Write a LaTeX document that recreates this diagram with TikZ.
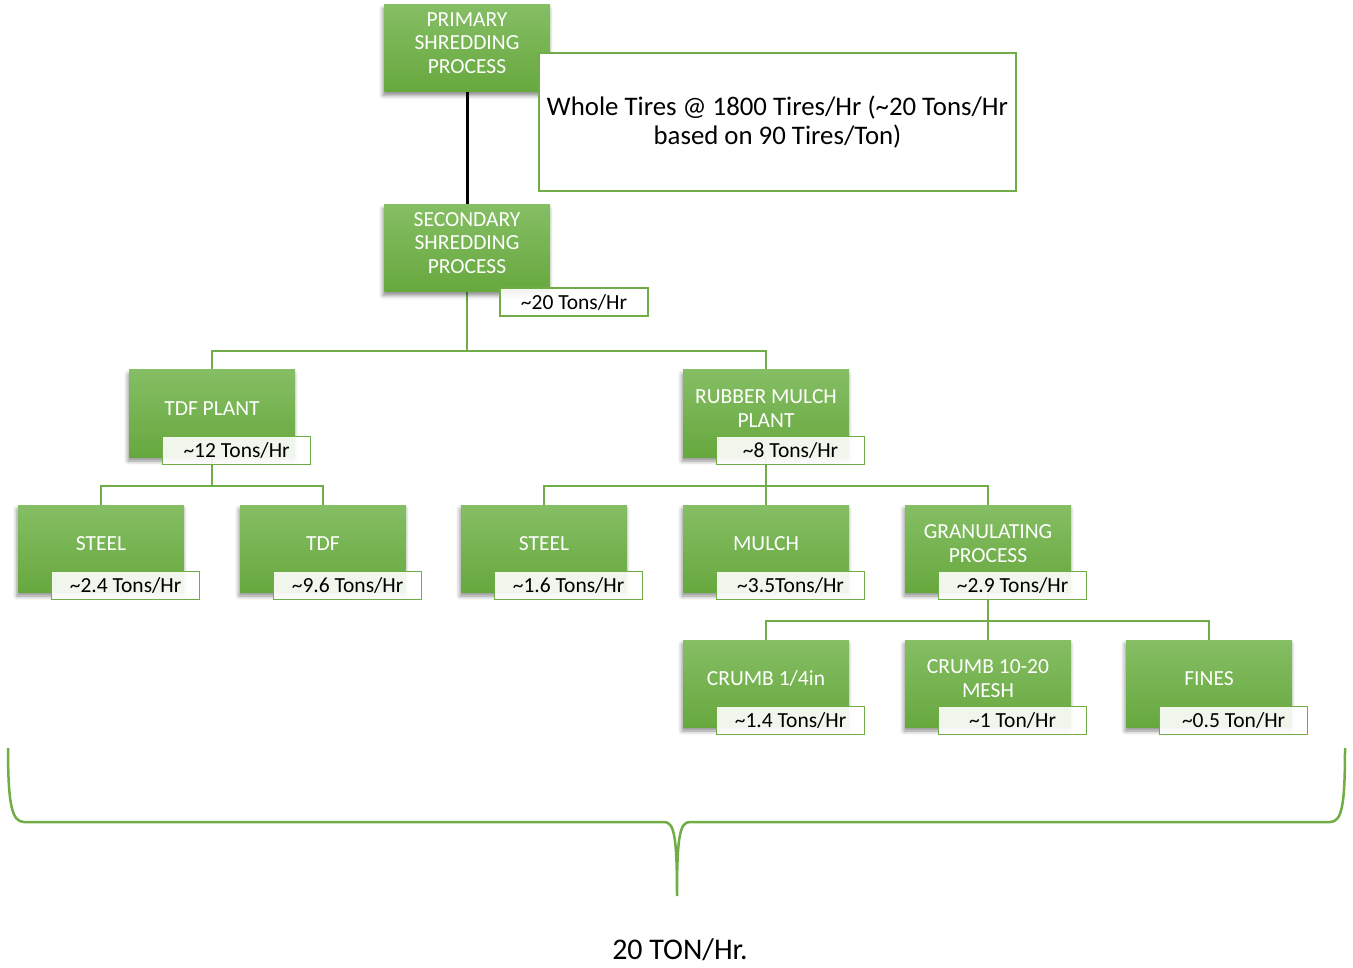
\documentclass[tikz,border=0pt]{standalone}
\usepackage{fontspec}
\setmainfont{Carlito}
\usetikzlibrary{positioning,shadows,shadows.blur,backgrounds,calc}
\definecolor{boxgreen}{HTML}{70AD47}
\definecolor{boxgreentop}{HTML}{85BE64}
\definecolor{boxgreenbot}{HTML}{67A83E}
\newcommand{\apx}{\textasciitilde}

\tikzset{
  stage/.style={minimum width=166pt, minimum height=87pt, inner sep=2pt,
    align=center, text=white, font=\fontsize{21.5}{23.5}\selectfont,
    text depth=10pt,
    top color=boxgreentop, bottom color=boxgreenbot,
    blur shadow={shadow xshift=-1pt, shadow yshift=-4pt,
      shadow blur radius=4pt, shadow opacity=45}},
  rate/.style={draw=boxgreen, line width=1.2pt, fill=white,
    fill opacity=0.9, text opacity=1, minimum width=148pt,
    minimum height=28pt, inner sep=1pt, font=\fontsize{21.5}{23}\selectfont},
  link/.style={draw=boxgreen, line width=2.5pt},
}

\begin{document}
\begin{tikzpicture}[x=1pt, y=-1pt]
  \useasboundingbox (0,0) rectangle (1353,968);

  %% Shredding stages
  \node[stage] (prim) at (467,48) {PRIMARY\\SHREDDING\\PROCESS};
  \node[stage] (sec) at (467,248) {SECONDARY\\SHREDDING\\PROCESS};
  \node[rate] (secr) at (574,302) {\apx20 Tons/Hr};
  \node[draw=boxgreen, line width=1.2pt, fill=white, minimum width=477pt,
        minimum height=138pt, align=center,
        font=\fontsize{26.8}{29}\selectfont] (feed) at (777.5,122)
    {Whole Tires @ 1800 Tires/Hr (\apx20 Tons/Hr\\based on 90 Tires/Ton)};
  \draw[black, line width=3pt] (prim) -- (sec);

  %% Plants
  \node[stage] (tdfp) at (212,413.5) {TDF PLANT};
  \node[rate, anchor=south east] (tdfpr) at ([xshift=16pt,yshift=-8pt]tdfp.south east) {\apx12 Tons/Hr};
  \node[stage] (rmp) at (766,413.5) {RUBBER MULCH\\PLANT};
  \node[rate, anchor=south east] (rmpr) at ([xshift=16pt,yshift=-8pt]rmp.south east) {\apx8 Tons/Hr};

  %% Products
  \node[stage] (steela) at (101,548.5) {STEEL};
  \node[rate, anchor=south east] (steelar) at ([xshift=16pt,yshift=-8pt]steela.south east) {\apx2.4 Tons/Hr};
  \node[stage] (tdf) at (323,548.5) {TDF};
  \node[rate, anchor=south east] (tdfr) at ([xshift=16pt,yshift=-8pt]tdf.south east) {\apx9.6 Tons/Hr};
  \node[stage] (steelb) at (544,548.5) {STEEL};
  \node[rate, anchor=south east] (steelbr) at ([xshift=16pt,yshift=-8pt]steelb.south east) {\apx1.6 Tons/Hr};
  \node[stage] (mulch) at (766,548.5) {MULCH};
  \node[rate, anchor=south east] (mulchr) at ([xshift=16pt,yshift=-8pt]mulch.south east) {\apx3.5Tons/Hr};
  \node[stage] (gran) at (988,548.5) {GRANULATING\\PROCESS};
  \node[rate, anchor=south east] (granr) at ([xshift=16pt,yshift=-8pt]gran.south east) {\apx2.9 Tons/Hr};

  %% Granulating outputs
  \node[stage] (crumba) at (766,683.5) {CRUMB 1/4in};
  \node[rate, anchor=south east] (crumbar) at ([xshift=16pt,yshift=-8pt]crumba.south east) {\apx1.4 Tons/Hr};
  \node[stage] (crumbb) at (988,683.5) {CRUMB 10-20\\MESH};
  \node[rate, anchor=south east] (crumbbr) at ([xshift=16pt,yshift=-8pt]crumbb.south east) {\apx1 Ton/Hr};
  \node[stage] (fines) at (1209,683.5) {FINES};
  \node[rate, anchor=south east] (finesr) at ([xshift=16pt,yshift=-8pt]fines.south east) {\apx0.5 Ton/Hr};

  %% Connectors behind the boxes
  \coordinate (j1) at (467,351);
  \coordinate (j2) at (212,486);
  \coordinate (j3) at (766,486);
  \coordinate (j4) at (988,621);
  \begin{scope}[on background layer]
    \draw[link] (sec.south) -- (j1);
    \draw[link] (tdfp.north) |- (j1) -| (rmp.north);
    \draw[link] (tdfp.south) -- (j2);
    \draw[link] (steela.north) |- (j2) -| (tdf.north);
    \draw[link] (rmp.south) -- (j3) -- (mulch.north);
    \draw[link] (steelb.north) |- (j3) -| (gran.north);
    \draw[link] (gran.south) -- (j4) -- (crumbb.north);
    \draw[link] (crumba.north) |- (j4) -| (fines.north);
  \end{scope}

  %% Brace and total
  \draw[boxgreen, line width=2.5pt] (8,748) .. controls (8,805) and (12,822) .. (24,822)
    -- (664,822) .. controls (674,822) and (677,835) .. (677,896)
    .. controls (677,835) and (680,822) .. (690,822)
    -- (1330,822) .. controls (1342,822) and (1345,805) .. (1345,748);
  \node[font=\fontsize{30}{34}\selectfont] (total) at (680,950) {20 TON/Hr.};
\end{tikzpicture}
\end{document}
